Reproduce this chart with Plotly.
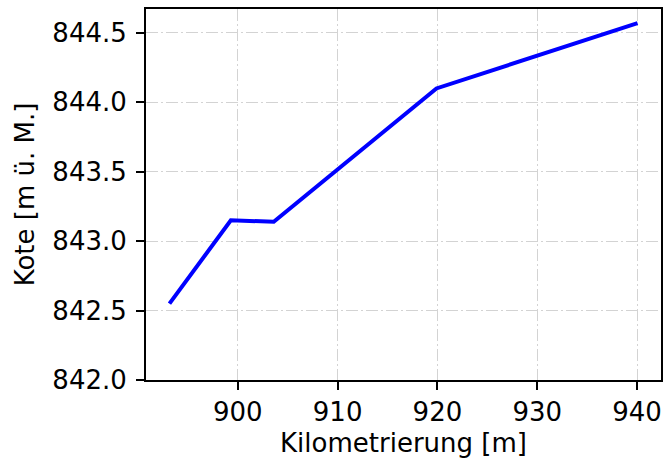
import plotly.graph_objects as go

km = [893.15, 899.3, 903.6, 919.9, 940.05]
kote = [842.55, 843.15, 843.14, 844.10, 844.57]

x_ticks = [900, 910, 920, 930, 940]
y_ticks = [842.0, 842.5, 843.0, 843.5, 844.0, 844.5]

font_family = "DejaVu Sans"
FS = 26
fig = go.Figure()
fig.add_trace(go.Scatter(x=km, y=kote, mode="lines",
                         line=dict(color="#0000ff", width=4)))

axis_common = dict(
    showline=True, linecolor="black", linewidth=2, mirror=True,
    ticks="outside", ticklen=8, tickwidth=2, tickcolor="black",
    showgrid=True, gridcolor="#d3d3d3", gridwidth=1.4,
    griddash="12px,3px,2px,3px", zeroline=False,
    tickfont=dict(family=font_family, size=FS, color="black"),
)

fig.update_xaxes(range=[890.8, 942.4], tickvals=x_ticks,
                 ticktext=[str(v) for v in x_ticks],
                 title=dict(text="Kilometrierung [m]", standoff=8,
                            font=dict(family=font_family, size=FS, color="black")),
                 **axis_common)
fig.update_yaxes(range=[842.0, 844.672], tickvals=y_ticks,
                 ticktext=[f"{v:.1f}" for v in y_ticks],
                 ticklabelstandoff=4,
                 title=dict(text="Kote [m ü. M.]", standoff=10,
                            font=dict(family=font_family, size=FS, color="black")),
                 **axis_common)

fig.update_layout(width=672, height=460,
                  margin=dict(l=146, r=11, t=7, b=80),
                  plot_bgcolor="white", paper_bgcolor="white",
                  showlegend=False,
                  font=dict(family=font_family, size=FS, color="black"))

fig.write_html("out.html")
